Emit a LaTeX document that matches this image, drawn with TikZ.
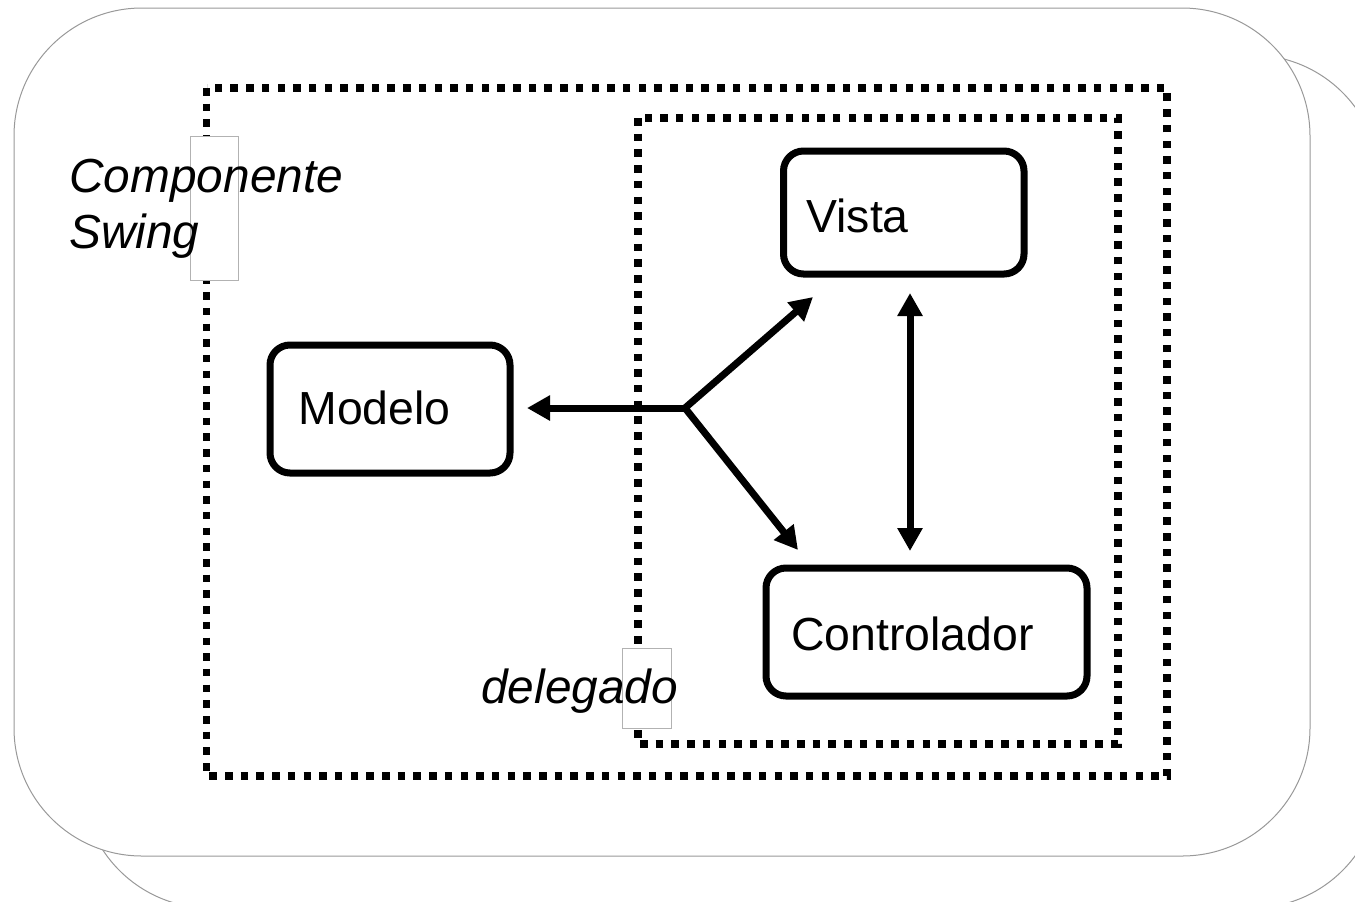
\documentclass[tikz,border=0pt]{standalone}
\usepackage{fontspec}
\setmainfont{Liberation Sans}
\usetikzlibrary{arrows.meta}

\tikzset{
  frameline/.style={draw=black!40, line width=0.5pt},
  panel/.style={frameline, fill=white, rounded corners=64pt},
  dotbox/.style={draw=black, line width=3.75pt, dash pattern=on 3.75pt off 4.1pt},
  block/.style={draw=black, line width=3.5pt, rounded corners=10pt, fill=white,
    rectangle, inner sep=0pt},
  blocktext/.style={inner sep=0pt, anchor=base west, font=\fontsize{23.2}{28}\selectfont},
  tag/.style={inner sep=0pt, font=\fontsize{23.9}{28}\selectfont\itshape},
  tagframe/.style={draw=black!30, line width=0.5pt, fill=white},
  flow/.style={draw=black, line width=3.5pt, line cap=round,
    -{Triangle[length=11.5pt,width=12pt]}},
  twoway/.style={draw=black, line width=3.5pt,
    {Triangle[length=11.5pt,width=12pt]}-{Triangle[length=11.5pt,width=12pt]}}
}

\begin{document}
\begin{tikzpicture}[x=0.5pt,y=-0.5pt]
  \useasboundingbox (0,0) rectangle (1355,901);
  \clip (0,0) rectangle (1355,901);

  % stacked background panels
  \draw[panel] (82,55) rectangle (1380,908);
  \draw[panel] (14,8) rectangle (1310,856);

  % component and delegate borders
  \draw[dotbox] (206.5,88) rectangle (1167,776);
  \draw[dotbox] (638,118) rectangle (1118,744);

  % label frames
  \node[tagframe, minimum width=24pt, minimum height=72pt] (swingframe) at (214,208) {};
  \node[tagframe, minimum width=24.5pt, minimum height=40pt] (delframe) at (646.5,688) {};

  % labels
  \node[tag, anchor=base west, align=left] (swing) at (69,248) {Componente\\Swing};
  \node[tag, anchor=base west] (delegado) at (481,703) {delegado};

  % blocks
  \node[block, minimum width=120pt, minimum height=64pt] (modelo) at (390,409) {};
  \node[block, minimum width=120.25pt, minimum height=61.5pt] (vista) at (903.75,212.5) {};
  \node[block, minimum width=160.5pt, minimum height=64pt] (ctrl) at (926.5,632) {};
  \node[blocktext] (tmodelo) at (298,424) {Modelo};
  \node[blocktext] (tvista) at (806,232) {Vista};
  \node[blocktext] (tctrl) at (791,650) {Controlador};

  % connectors
  \coordinate (hub) at (685,408);
  \coordinate (tipm) at (527,408);
  \coordinate (tipv) at (813,297);
  \coordinate (tipc) at (798,550);
  \coordinate (vtop) at (910,293);
  \coordinate (vbot) at (910,551);
  \draw[flow] (hub) -- (tipm);
  \draw[flow] (hub) -- (tipv);
  \draw[flow] (hub) -- (tipc);
  \draw[twoway] (vtop) -- (vbot);
\end{tikzpicture}
\end{document}
